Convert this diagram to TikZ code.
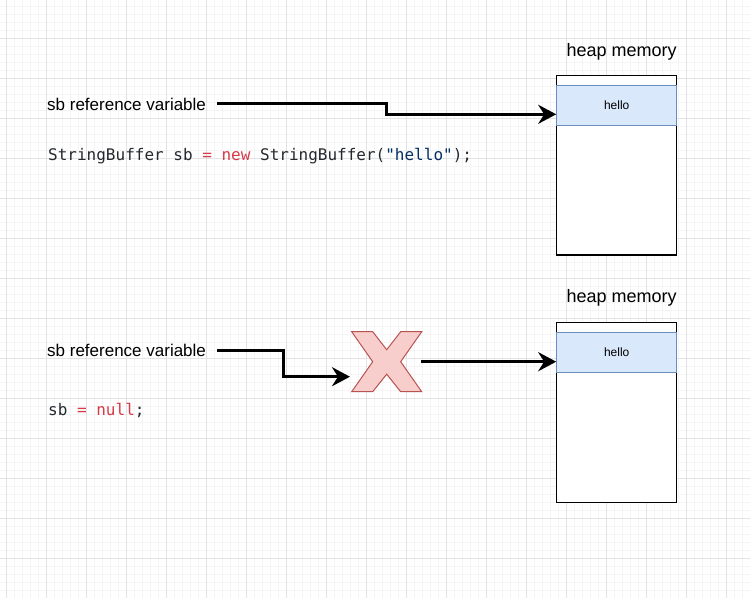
\documentclass[tikz,border=0pt]{standalone}
\usepackage{fontspec}
\setmainfont{Liberation Sans}
\newfontfamily\codefont{DejaVu Sans Mono}
\usetikzlibrary{arrows.meta}
\definecolor{gridminor}{HTML}{F4F4F4}
\definecolor{gridmajor}{HTML}{E3E3E3}
\definecolor{codegray}{HTML}{24292E}
\definecolor{codered}{HTML}{D73A49}
\definecolor{codeblue}{HTML}{032F62}
\definecolor{bandfill}{HTML}{DAE8FC}
\definecolor{bandline}{HTML}{6C8EBF}
\definecolor{xfill}{HTML}{F8CECC}
\definecolor{xline}{HTML}{B85450}
\tikzset{
  lbl/.style={anchor=base west, inner sep=0pt, font=\fontsize{17}{20}\selectfont},
  code/.style={anchor=base west, inner sep=0pt, font=\codefont\fontsize{16}{19}\selectfont, text=codegray},
  heaptitle/.style={anchor=base, inner sep=0pt, font=\fontsize{18}{21}\selectfont},
  heapbox/.style={draw=black, line width=1.2pt, fill=white, minimum width=120pt, inner sep=0pt},
  band/.style={draw=bandline, fill=bandfill, line width=1pt, minimum width=120pt, minimum height=39.6pt, inner sep=0pt, font=\fontsize{12}{14}\selectfont},
  conn/.style={line width=3pt, -{Stealth[length=18pt,width=19pt,inset=6pt]}},
  xbox/.style={minimum width=70pt, minimum height=60pt, inner sep=0pt},
}
\begin{document}
\begin{tikzpicture}[x=1pt,y=-1pt]
\fill[white] (0,0) rectangle (750,598);
\useasboundingbox (0,0) rectangle (750,598);
% grid
\foreach \x in {-1.3,6.7,...,750} \draw[gridminor, line width=1pt] (\x,0) -- (\x,598);
\foreach \y in {-1.7,6.3,...,598} \draw[gridminor, line width=1pt] (0,\y) -- (750,\y);
\foreach \x in {6.7,46.7,...,750} \draw[gridmajor, line width=1pt] (\x,0) -- (\x,598);
\foreach \y in {-1.7,38.3,...,598} \draw[gridmajor, line width=1pt] (0,\y) -- (750,\y);

% top panel
\node[lbl] (l1) at (47,110) {sb reference variable};
\node[code] (c1) at (48,160) {StringBuffer sb \textcolor{codered}{=} \textcolor{codered}{new} StringBuffer(\textcolor{codeblue}{"hello"});};
\node[heaptitle] (t1) at (621.7,56) {heap memory};
\node[heapbox, minimum height=179.3pt] (heap1) at (616.7,165.35) {};
\node[band] (band1) at (616.7,105.5) {hello};
\coordinate (s1) at (217,103.3);
\coordinate (b1) at (386,109);
\coordinate (e1) at ([yshift=-8.8pt]band1.west);
\draw[conn] (s1) -| (b1) |- (e1);

% bottom panel
\node[lbl] (l2) at (47,356.5) {sb reference variable};
\node[code] (c2) at (48,415) {sb \textcolor{codered}{=} \textcolor{codered}{null};};
\node[heaptitle] (t2) at (621.7,302.3) {heap memory};
\node[heapbox, minimum height=180pt] (heap2) at (616.7,412.3) {};
\node[band] (band2) at (616.7,352.3) {hello};
\node[xbox] (xmark) at (386.7,361.7) {};
\begin{scope}[shift={(xmark.center)}]
\draw[fill=xfill, draw=xline, line width=1pt, line join=miter]
  (-35,-30) -- (-14,-30) -- (0,-12) -- (14,-30) -- (35,-30) -- (14,0) -- (35,30)
  -- (14,30) -- (0,12.5) -- (-14,30) -- (-35,30) -- (-14,0) -- cycle;
\end{scope}
\coordinate (s2) at (217,350);
\coordinate (b2) at (283,363);
\coordinate (e2) at ([xshift=-1.5pt,yshift=-15pt]xmark.west);
\draw[conn] (s2) -| (b2) |- (e2);
\coordinate (s3) at ([xshift=-0.5pt]xmark.east);
\draw[conn] (s3) -- (s3 -| band2.west);
\end{tikzpicture}
\end{document}
